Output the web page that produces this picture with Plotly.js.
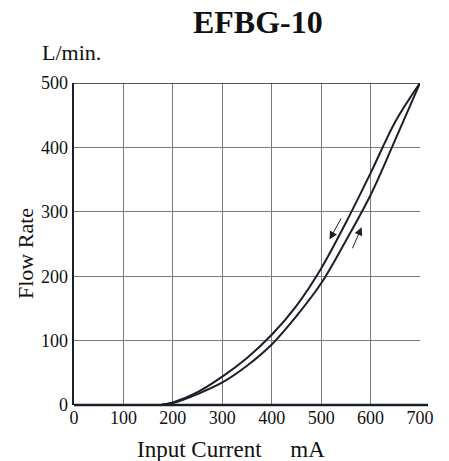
<!DOCTYPE html>
<html>
<head>
<meta charset="utf-8">
<script src="https://cdn.plot.ly/plotly-3.0.1.min.js"></script>
<style>html,body{margin:0;padding:0;background:#fff;}#chart{width:449px;height:461px;}</style>
</head>
<body>
<div id="chart"></div>
<script>
// Data
var currentDown = [175, 200, 250, 300, 350, 400, 450, 500, 550, 600, 650, 700];
var flowDown    = [0, 4, 20, 44, 73, 109, 154, 212, 283, 360, 440, 500];
var currentUp   = [175, 200, 250, 300, 350, 400, 450, 500, 550, 600, 650, 700];
var flowUp      = [0, 3, 17, 35, 61, 94, 138, 189, 255, 326, 412, 500];
var xTicks = [0, 100, 200, 300, 400, 500, 600, 700];
var yTicks = [0, 100, 200, 300, 400, 500];

var serif = "'Liberation Serif', 'Times New Roman', Times, serif";
var ink = "#1b1f29";

var traces = [
  {x: currentDown, y: flowDown, mode: "lines", line: {color: ink, width: 2, shape: "spline", smoothing: 1}, hoverinfo: "skip"},
  {x: currentUp, y: flowUp, mode: "lines", line: {color: ink, width: 2, shape: "spline", smoothing: 1}, hoverinfo: "skip"}
];

var layout = {
  width: 449, height: 461,
  margin: {l: 74, r: 29, t: 83, b: 56, pad: 0},
  paper_bgcolor: "#fff", plot_bgcolor: "#fff",
  showlegend: false,
  font: {family: serif, color: "#111", size: 18},
  title: {text: "<b>EFBG-10</b>", font: {family: serif, size: 32, color: "#111"}, x: 238.5/449, xanchor: "center", y: 1 - 22/461, yanchor: "middle", xref: "paper", yref: "container"},
  xaxis: {
    range: [0, 700], tickvals: xTicks, ticktext: xTicks.map(String),
    showgrid: true, gridcolor: "#7a7a7a", gridwidth: 1,
    zeroline: false, showline: false, ticks: "",
    tickfont: {family: serif, size: 18, color: "#111"}
  },
  yaxis: {
    range: [0, 500], tickvals: yTicks, ticktext: yTicks.map(String),
    showgrid: true, gridcolor: "#7a7a7a", gridwidth: 1,
    zeroline: false, showline: true, linecolor: ink, linewidth: 2.5, ticks: "",
    tickfont: {family: serif, size: 18, color: "#111"}
  },
  shapes: [
    {type: "line", xref: "paper", yref: "paper", x0: 0, x1: (428 - 74) / 346, y0: 0, y1: 0, line: {color: ink, width: 2.5}},
    {type: "line", xref: "x", yref: "y", x0: 0, x1: 700, y0: 500, y1: 500, line: {color: ink, width: 1.5}}
  ],
  annotations: [
    {text: "L/min.", xref: "paper", yref: "paper", x: (40 - 74) / 346, y: (405 - 52) / 322, xanchor: "left", yanchor: "middle", showarrow: false, font: {family: serif, size: 22, color: "#111"}},
    {text: "Input Current\u00A0\u00A0\u00A0\u00A0\u00A0mA", xref: "paper", yref: "paper", x: (230.5 - 74) / 346, y: (405 - 449) / 322, xanchor: "center", yanchor: "middle", showarrow: false, font: {family: serif, size: 23, color: "#111"}},
    {text: "Flow Rate", textangle: -90, xref: "paper", yref: "paper", x: (25 - 74) / 346, y: (405 - 253) / 322, xanchor: "center", yanchor: "middle", showarrow: false, font: {family: serif, size: 22, color: "#111"}},
    {text: "", x: 517, y: 257, ax: 542, ay: 292, axref: "x", ayref: "y", xref: "x", yref: "y", showarrow: true, arrowhead: 2, arrowsize: 1.6, arrowwidth: 1, arrowcolor: ink},
    {text: "", x: 582, y: 276, ax: 562, ay: 241, axref: "x", ayref: "y", xref: "x", yref: "y", showarrow: true, arrowhead: 2, arrowsize: 1.6, arrowwidth: 1, arrowcolor: ink}
  ]
};

Plotly.newPlot("chart", traces, layout, {displayModeBar: false, staticPlot: true});
</script>
</body>
</html>
